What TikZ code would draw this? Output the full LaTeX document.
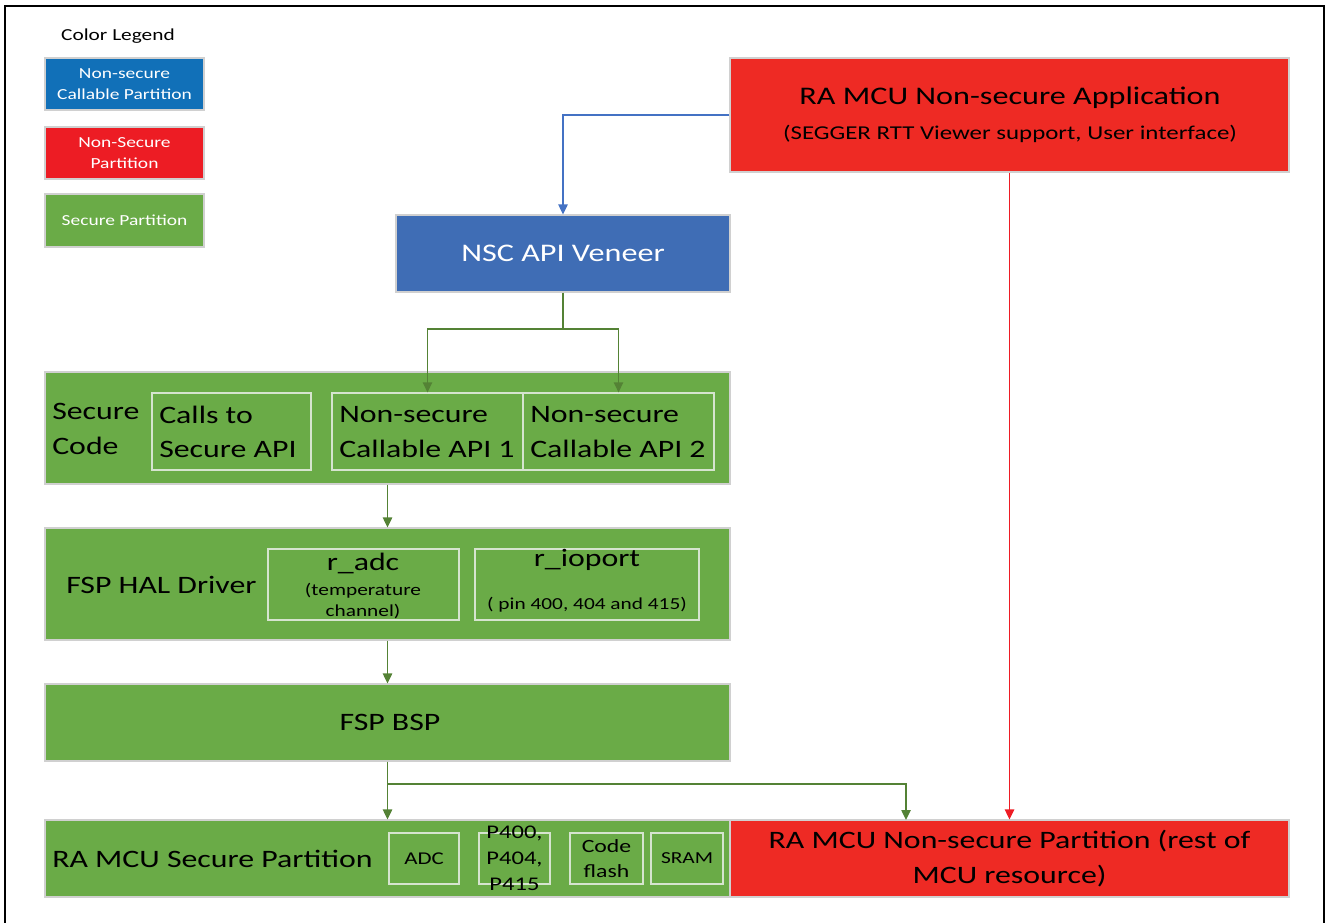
\documentclass[tikz,border=0pt]{standalone}
\usepackage{fontspec}
\setmainfont{Carlito}[FakeStretch=1.27]
\usetikzlibrary{arrows.meta,fit}
\definecolor{lgblue}{HTML}{1170B8}
\definecolor{lgred}{HTML}{ED1C24}
\definecolor{sgreen}{HTML}{6AAB47}
\definecolor{nsred}{HTML}{EE2A24}
\definecolor{nscblue}{HTML}{3F6DB5}
\definecolor{agreen}{HTML}{548235}
\definecolor{ablue}{HTML}{4472C4}
\definecolor{ared}{HTML}{EE1C24}
\definecolor{edge}{HTML}{D0D0D0}
\definecolor{subedge}{HTML}{D6E4CF}
\begin{document}
\begin{tikzpicture}[x=0.75pt,y=-0.75pt,
  area/.style={draw=edge, line width=0.8pt, inner sep=0pt},
  subarea/.style={draw=subedge, line width=0.9pt, inner sep=0pt},
  txt/.style={inner sep=0pt, text=black},
  wtxt/.style={inner sep=0pt, text=white},
  conn/.style={line width=1.1pt},
  garrow/.style={conn, draw=agreen, -{Triangle[width=7pt,length=7.5pt,fill=agreen]}},
  barrow/.style={conn, draw=ablue, -{Triangle[width=7pt,length=7.5pt,fill=ablue]}},
  rarrow/.style={conn, draw=ared, -{Triangle[width=7pt,length=7.5pt,fill=ared]}},
  big/.style={font=\fontsize{18.8}{26}\selectfont},
  mid/.style={font=\fontsize{12.6}{16}\selectfont},
  small/.style={font=\fontsize{11.5}{15.5}\selectfont}
]
\useasboundingbox (0,0) rectangle (1326,923);
% frame
\draw[line width=1.6pt] (5,923) -- (5,6) -- (1324,6) -- (1324,923);

% legend
\node[txt, font=\fontsize{12.6}{16}\selectfont] (lgt) at (118,36) {Color Legend};
\node[area, fill=lgblue, fit={(45,58) (204,110)}] (lg1) {};
\node[wtxt, small, align=center] (lg1t) at (lg1.center) {Non-secure\\Callable Partition};
\node[area, fill=lgred, fit={(45,127) (204,179)}] (lg2) {};
\node[wtxt, small, align=center] (lg2t) at (lg2.center) {Non-Secure\\Partition};
\node[area, fill=sgreen, fit={(45,194) (204,247)}] (lg3) {};
\node[wtxt, small, align=center] (lg3t) at (lg3.center) {Secure Partition};

% application
\node[area, fill=nsred, fit={(730,58) (1289,172)}] (app) {};
\node[txt, font=\fontsize{19}{22}\selectfont] (appt) at (1010,98) {RA MCU Non-secure Application};
\node[txt, font=\fontsize{14.7}{18}\selectfont] (apps) at (1010,134) {(SEGGER RTT Viewer support, User interface)};

% veneer
\node[area, fill=nscblue, fit={(396,215) (730,292)}] (nsc) {};
\node[wtxt, font=\fontsize{19}{22}\selectfont] (nsct) at (nsc.center) {NSC API Veneer};

% secure code
\node[area, fill=sgreen, fit={(45,372) (730,484)}] (sc) {};
\node[txt, big, align=left, anchor=west] (sct) at (52,429) {Secure\\Code};
\node[subarea, fit={(152,393) (311,470)}] (calls) {};
\node[txt, big, align=left, anchor=west] (callst) at (159,432) {Calls to\\Secure API};
\node[subarea, fit={(332,393) (523,470)}] (api1) {};
\node[txt, big, align=left, anchor=west] (api1t) at (339,432) {Non-secure\\Callable API 1};
\node[subarea, fit={(523,393) (714,470)}] (api2) {};
\node[txt, big, align=left, anchor=west] (api2t) at (530,432) {Non-secure\\Callable API 2};

% HAL
\node[area, fill=sgreen, fit={(45,528) (730,640)}] (hal) {};
\node[txt, big, anchor=west] (halt) at (66,585) {FSP HAL Driver};
\node[subarea, fit={(268,549) (459,620)}] (adc) {};
\node[txt, big] (adct) at (363,563) {r\_adc};
\node[txt, mid, align=center] (adcs) at (363,601) {(temperature\\channel)};
\node[subarea, fit={(475,549) (699,620)}] (iop) {};
\node[txt, big] (iopt) at (587,560) {r\_ioport};
\node[txt, mid] (iops) at (587,605) {( pin 400, 404 and 415)};

% BSP
\node[area, fill=sgreen, fit={(45,684) (730,761)}] (bsp) {};
\node[txt, big] (bspt) at (390,722) {FSP BSP};

% secure partition
\node[area, fill=sgreen, fit={(45,820) (730,897)}] (sp) {};
\node[txt, big, anchor=west] (spt) at (52,859) {RA MCU Secure Partition};
\node[subarea, fit={(389,833) (459,884)}] (radc) {};
\node[txt, font=\fontsize{13.5}{16}\selectfont] (radct) at (radc.center) {ADC};
\node[subarea, fit={(479,833) (550,884)}] (pins) {};
\node[txt, font=\fontsize{14.5}{19.5}\selectfont, align=center] (pinst) at (pins.center) {P400,\\P404,\\P415};
\node[subarea, fit={(570,833) (643,884)}] (flash) {};
\node[txt, font=\fontsize{14}{19}\selectfont, align=center] (flasht) at (flash.center) {Code\\flash};
\node[subarea, fit={(651,833) (723,884)}] (sram) {};
\node[txt, font=\fontsize{12.6}{16}\selectfont] (sramt) at (sram.center) {SRAM};

% non-secure partition
\node[area, fill=nsred, fit={(730,820) (1289,897)}] (nsp) {};
\node[txt, big, align=center] (nspt) at (nsp.center) {RA MCU Non-secure Partition (rest of\\MCU resource)};

% connectors
\draw[barrow] (app.west) -| (nsc.north);
\coordinate (split1) at (563,329);
\draw[garrow] (nsc.south) -- (split1) -| (api1.north);
\draw[garrow] (split1) -| (api2.north);
\draw[garrow] (sc.south) -- (hal.north);
\draw[garrow] (hal.south) -- (bsp.north);
\coordinate (split2) at (387.5,784);
\coordinate (nspin) at (906,820);
\draw[garrow] (bsp.south) -- (sp.north);
\draw[garrow] (split2) -| (nspin);
\draw[rarrow] (app.south) -- (nsp.north);
\end{tikzpicture}
\end{document}
